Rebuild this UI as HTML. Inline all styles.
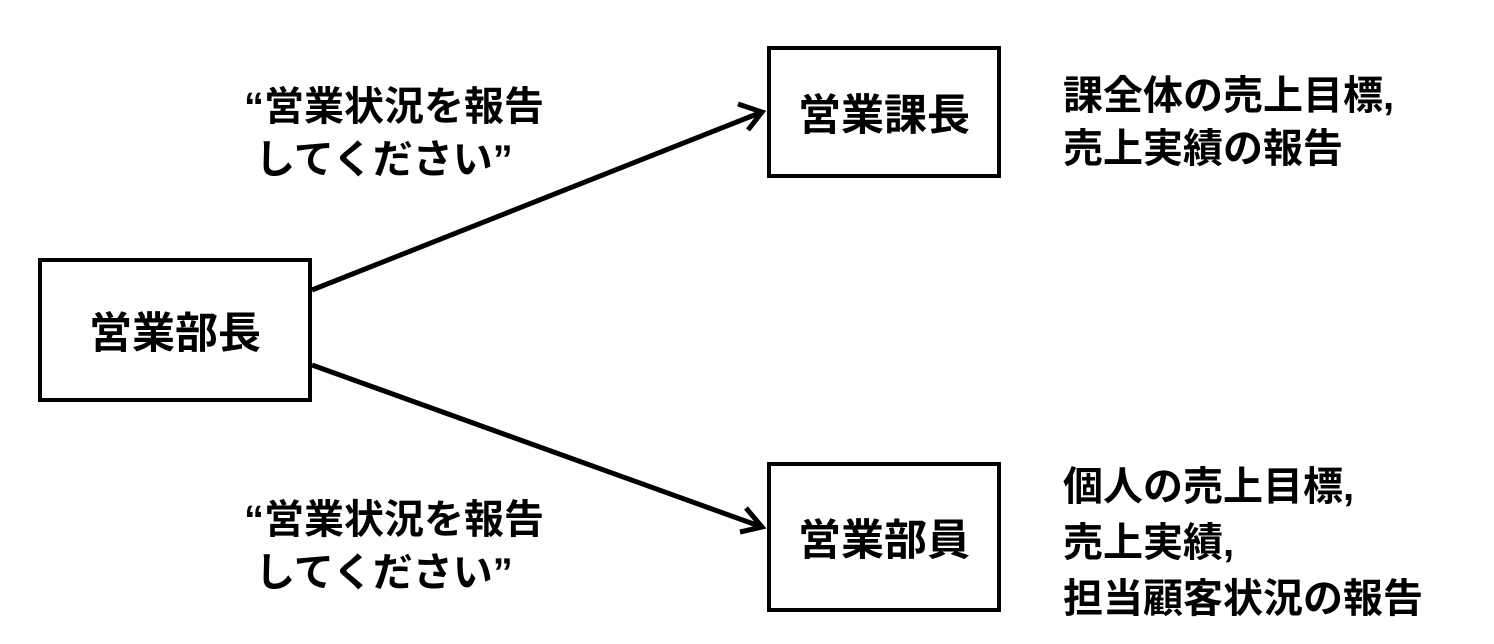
<!DOCTYPE html>
<html><head><meta charset="utf-8"><style>
body{margin:0;width:1494px;height:644px;background:#fff;overflow:hidden;position:relative;font-family:"Liberation Sans","Noto Sans CJK JP",sans-serif;font-weight:bold;color:#000}
.b{position:absolute;border:4px solid #000;box-sizing:border-box;display:flex;align-items:center;justify-content:center;font-size:43px}
.t{position:absolute;font-size:40px;line-height:53px;white-space:nowrap}
</style></head><body>
<svg width="1494" height="644" style="position:absolute;left:0;top:0">
<g stroke="#000" stroke-width="5" fill="none">
<line x1="312" y1="290" x2="762" y2="112"/>
<polyline points="738,104 762,112 748,130"/>
<line x1="312" y1="365" x2="762" y2="527"/>
<polyline points="746,508 762,527 740,532"/>
</g></svg>
<div class="b" style="left:38px;top:258px;width:274px;height:144px">営業部長</div>
<div class="b" style="left:767px;top:46px;width:234px;height:132px">営業課長</div>
<div class="b" style="left:767px;top:462px;width:234px;height:150px">営業部員</div>
<div class="t" style="left:244px;top:81px">“営業状況を報告<br>&nbsp;してください”</div>
<div class="t" style="left:244px;top:494px">“営業状況を報告<br>&nbsp;してください”</div>
<div class="t" style="left:1063px;top:70px">課全体の売上目標,<br>売上実績の報告</div>
<div class="t" style="left:1063px;top:459px;line-height:56px">個人の売上目標,<br>売上実績,<br>担当顧客状況の報告</div>
</body></html>
